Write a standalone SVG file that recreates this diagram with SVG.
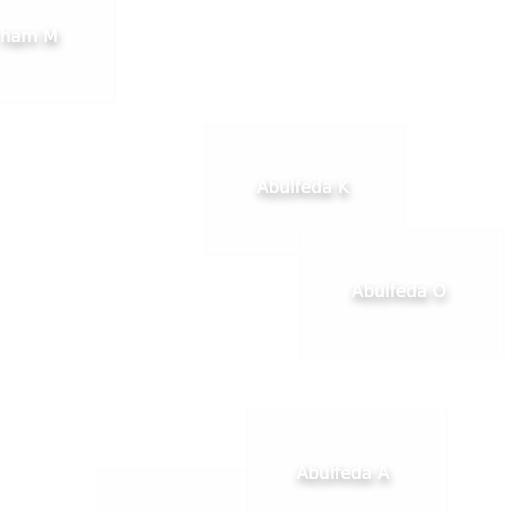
<svg xmlns="http://www.w3.org/2000/svg" width="512" height="512" viewBox="0 0 512 512">
<defs>
<filter id="sh" x="-40%" y="-100%" width="180%" height="300%">
<feGaussianBlur in="SourceAlpha" stdDeviation="4"/>
<feOffset dx="1" dy="5" result="b"/>
<feComponentTransfer in="b" result="c"><feFuncA type="linear" slope="0.45"/></feComponentTransfer>
<feMerge><feMergeNode in="c"/><feMergeNode in="SourceGraphic"/></feMerge>
</filter>
</defs>
<style>
.box{fill:#fefefe;stroke:#fbfbfb;stroke-width:1}
.lbl{font-family:"DejaVu Sans",sans-serif;font-size:17px;fill:#ffffff;text-anchor:middle;filter:url(#sh)}
</style>
<rect width="512" height="512" fill="#ffffff"/>
<g id="connectors"></g>
<g id="node-m">
<rect class="box" x="-90" y="-30" width="205" height="133"/>
<text class="lbl" x="0" y="42" style="text-anchor:start">ham M</text>
</g>
<g id="node-k">
<rect class="box" x="205" y="125" width="200" height="130"/>
<text class="lbl" x="303" y="193">Abulfeda K</text>
</g>
<g id="node-o">
<rect class="box" x="300" y="228" width="204" height="132"/>
<text class="lbl" x="399" y="297">Abulfeda O</text>
</g>
<g id="node-a">
<rect class="box" x="247" y="408" width="200" height="120"/>
<text class="lbl" x="343" y="479">Abulfeda A</text>
</g>
<g id="node-x">
<rect class="box" x="97" y="470" width="150" height="60"/>
</g>
</svg>
